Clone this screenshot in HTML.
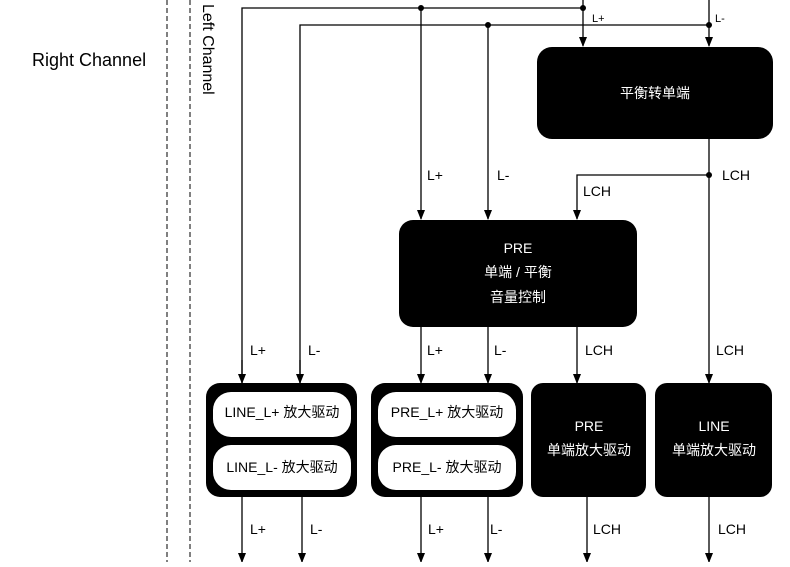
<!DOCTYPE html>
<html><head><meta charset="utf-8"><style>
body{margin:0;background:#fff}
svg text{font-family:"Liberation Sans","Noto Sans CJK SC",sans-serif}
</style></head><body>
<svg width="790" height="562" viewBox="0 0 790 562" xmlns="http://www.w3.org/2000/svg">
<defs><marker id="a" markerWidth="8" markerHeight="10" refX="4" refY="9" orient="auto-start-reverse" markerUnits="userSpaceOnUse" viewBox="0 0 8 10"><path d="M0,0 L4,10 L8,0 L4,3z" fill="#000"/></marker>
<marker id="d" markerWidth="10" markerHeight="10" refX="5" refY="9" markerUnits="userSpaceOnUse" viewBox="0 0 10 10"><path d="M1,0 L5,10 L9,0z" fill="#000"/></marker></defs>
<g stroke="#000" stroke-width="1" stroke-dasharray="5,3"><line x1="167" y1="0" x2="167" y2="562"/><line x1="190" y1="0" x2="190" y2="562"/></g>
<text x="32" y="66" font-size="18">Right Channel</text>
<text transform="translate(203,4) rotate(90)" font-size="16">Left Channel</text>
<g stroke="#000" stroke-width="1.3" fill="none">
<polyline points="242,383 242,8 583,8"/><polyline points="300,383 300,25 709,25"/>
<line x1="583" y1="0" x2="583" y2="46" marker-end="url(#d)"/>
<line x1="709" y1="0" x2="709" y2="46" marker-end="url(#d)"/>
<line x1="421" y1="8" x2="421" y2="219" marker-end="url(#d)"/>
<line x1="488" y1="25" x2="488" y2="219" marker-end="url(#d)"/>
<line x1="709" y1="139" x2="709" y2="383" marker-end="url(#d)"/>
<polyline points="709,175 577,175 577,219" marker-end="url(#d)"/>
<line x1="421" y1="327" x2="421" y2="383" marker-end="url(#d)"/>
<line x1="488" y1="327" x2="488" y2="383" marker-end="url(#d)"/>
<line x1="577" y1="327" x2="577" y2="383" marker-end="url(#d)"/>
<line x1="242" y1="383" x2="242" y2="384" />
<line x1="242" y1="497" x2="242" y2="562" marker-end="url(#d)"/>
<line x1="302" y1="497" x2="302" y2="562" marker-end="url(#d)"/>
<line x1="421" y1="497" x2="421" y2="562" marker-end="url(#d)"/>
<line x1="488" y1="497" x2="488" y2="562" marker-end="url(#d)"/>
<line x1="587" y1="497" x2="587" y2="562" marker-end="url(#d)"/>
<line x1="709" y1="497" x2="709" y2="562" marker-end="url(#d)"/>
</g>
<g stroke="#000" stroke-width="1.3"><line x1="242" y1="360" x2="242" y2="383" marker-end="url(#d)"/><line x1="300" y1="360" x2="300" y2="383" marker-end="url(#d)"/></g>
<g fill="#000"><circle cx="421" cy="8" r="3"/><circle cx="583" cy="8" r="3"/><circle cx="488" cy="25" r="3"/><circle cx="709" cy="25" r="3"/><circle cx="709" cy="175" r="3"/></g>
<rect x="537" y="47" width="236" height="92" rx="15" fill="#000"/>
<text x="655" y="98" font-size="14" fill="#fff" text-anchor="middle">平衡转单端</text>
<rect x="399" y="220" width="238" height="107" rx="14" fill="#000"/>
<g fill="#fff" font-size="14" text-anchor="middle"><text x="518" y="253">PRE</text><text x="518" y="277">单端 / 平衡</text><text x="518" y="302">音量控制</text></g>
<rect x="206" y="383" width="151" height="114" rx="14" fill="#000"/>
<rect x="213" y="392" width="138" height="45" rx="18" fill="#fff"/><rect x="213" y="445" width="138" height="45" rx="18" fill="#fff"/>
<rect x="371" y="383" width="152" height="114" rx="14" fill="#000"/>
<rect x="378" y="392" width="138" height="45" rx="18" fill="#fff"/><rect x="378" y="445" width="138" height="45" rx="18" fill="#fff"/>
<rect x="531" y="383" width="115" height="114" rx="12" fill="#000"/>
<rect x="655" y="383" width="117" height="114" rx="12" fill="#000"/>
<g font-size="14" text-anchor="middle">
<text x="282" y="417">LINE_L+ 放大驱动</text><text x="282" y="472">LINE_L- 放大驱动</text>
<text x="447" y="417">PRE_L+ 放大驱动</text><text x="447" y="472">PRE_L- 放大驱动</text>
<g fill="#fff"><text x="589" y="431">PRE</text><text x="589" y="455">单端放大驱动</text><text x="714" y="431">LINE</text><text x="714" y="455">单端放大驱动</text></g>
</g>
<g font-size="14">
<text x="592" y="22" font-size="11">L+</text><text x="715" y="22" font-size="11">L-</text>
<text x="427" y="180">L+</text><text x="497" y="180">L-</text><text x="722" y="180">LCH</text><text x="583" y="196">LCH</text>
<text x="250" y="355">L+</text><text x="308" y="355">L-</text><text x="427" y="355">L+</text><text x="494" y="355">L-</text><text x="585" y="355">LCH</text><text x="716" y="355">LCH</text>
<text x="250" y="534">L+</text><text x="310" y="534">L-</text><text x="428" y="534">L+</text><text x="490" y="534">L-</text><text x="593" y="534">LCH</text><text x="718" y="534">LCH</text>
</g>
</svg>
</body></html>
